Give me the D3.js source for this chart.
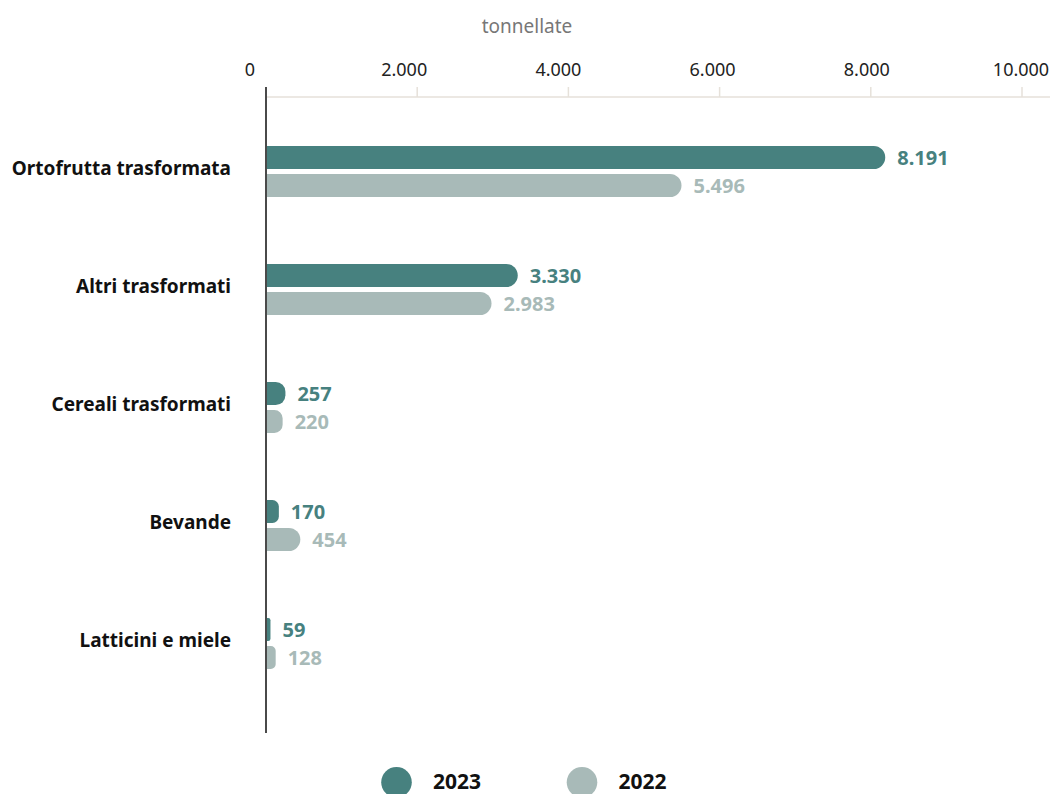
<!DOCTYPE html>
<html><head><meta charset="utf-8">
<script src="https://cdn.jsdelivr.net/npm/d3@7"></script>
<style>body{margin:0;background:#fff;}svg{display:block;font-family:"Noto Sans",sans-serif;}</style>
</head><body><svg id="c" width="1050" height="794"></svg>
<script>
const categories = ["Ortofrutta trasformata","Altri trasformati","Cereali trasformati","Bevande","Latticini e miele"];
const series = ["2023","2022"];
const values2023 = [8191,3330,257,170,59];
const values2022 = [5496,2983,220,454,128];
const ticks = [0,2000,4000,6000,8000,10000];
const tickLabels = ["0","2.000","4.000","6.000","8.000","10.000"];
const unitLabel = "tonnellate";
const colors = {"2023":"#47817f","2022":"#a8bab8"};

const svg = d3.select("#c");
const x = d3.scaleLinear().domain([0,10000]).range([266,1022]);
const xLab = d3.scaleLinear().domain([0,10000]).range([250,1021]);
const y = d3.scaleBand().domain(categories).range([112.5,702.5]);
const barH = 23, gap = 5;
const fmt = v => d3.format(",")(v).replace(/,/g,".");

svg.append("text").attr("x",527).attr("y",33).attr("text-anchor","middle")
  .attr("fill","#777").attr("font-size",19).text(unitLabel);

// gridline + ticks
svg.append("line").attr("x1",266).attr("x2",1050).attr("y1",97).attr("y2",97)
  .attr("stroke","#e6e1da").attr("stroke-width",1.5);
svg.selectAll(".tk").data(ticks.slice(1)).join("line")
  .attr("x1",d=>x(d)).attr("x2",d=>x(d)).attr("y1",87).attr("y2",97)
  .attr("stroke","#e6e1da").attr("stroke-width",1.5);
svg.selectAll(".tl").data(ticks).join("text")
  .attr("x",d=>xLab(d)).attr("y",76).attr("text-anchor","middle")
  .attr("fill","#222").attr("font-size",18).text((d,i)=>tickLabels[i]);

function barPath(x0,x1,yt,h){
  const w = x1-x0; const r = Math.min(h/2,w/2);
  return `M${x0},${yt}H${x1-r}A${r},${r} 0 0 1 ${x1},${yt+r}V${yt+h-r}A${r},${r} 0 0 1 ${x1-r},${yt+h}H${x0}Z`;
}

const data = [];
categories.forEach((c,i)=>{
  data.push({c, s:"2023", v:values2023[i], yt:y(c)+y.bandwidth()/2-gap/2-barH});
  data.push({c, s:"2022", v:values2022[i], yt:y(c)+y.bandwidth()/2+gap/2});
});
svg.selectAll(".bar").data(data).join("path")
  .attr("d",d=>barPath(x(0),x(d.v),d.yt,barH)).attr("fill",d=>colors[d.s]);
svg.selectAll(".vl").data(data).join("text")
  .attr("x",d=>x(d.v)+12).attr("y",d=>d.yt+barH/2+7.5)
  .attr("fill",d=>colors[d.s]).attr("font-size",20).attr("font-weight","bold")
  .text(d=>fmt(d.v));

svg.selectAll(".cl").data(categories).join("text")
  .attr("x",231).attr("y",d=>y(d)+y.bandwidth()/2+3.5).attr("text-anchor","end")
  .attr("fill","#111").attr("font-size",19).attr("font-weight","bold").text(d=>d);

svg.append("line").attr("x1",266).attr("x2",266).attr("y1",87).attr("y2",733)
  .attr("stroke","#4a4a4a").attr("stroke-width",2);

// legend
const lx = d3.scalePoint().domain(series).range([396.5,582]);
const lg = svg.selectAll(".lg").data(series).join("g");
lg.append("circle").attr("cx",d=>lx(d)).attr("cy",782.3).attr("r",15.3).attr("fill",d=>colors[d]);
lg.append("text").attr("x",d=>lx(d)+36.5).attr("y",789).attr("font-size",21)
  .attr("font-weight","bold").attr("fill","#111").text(d=>d);
</script></body></html>
